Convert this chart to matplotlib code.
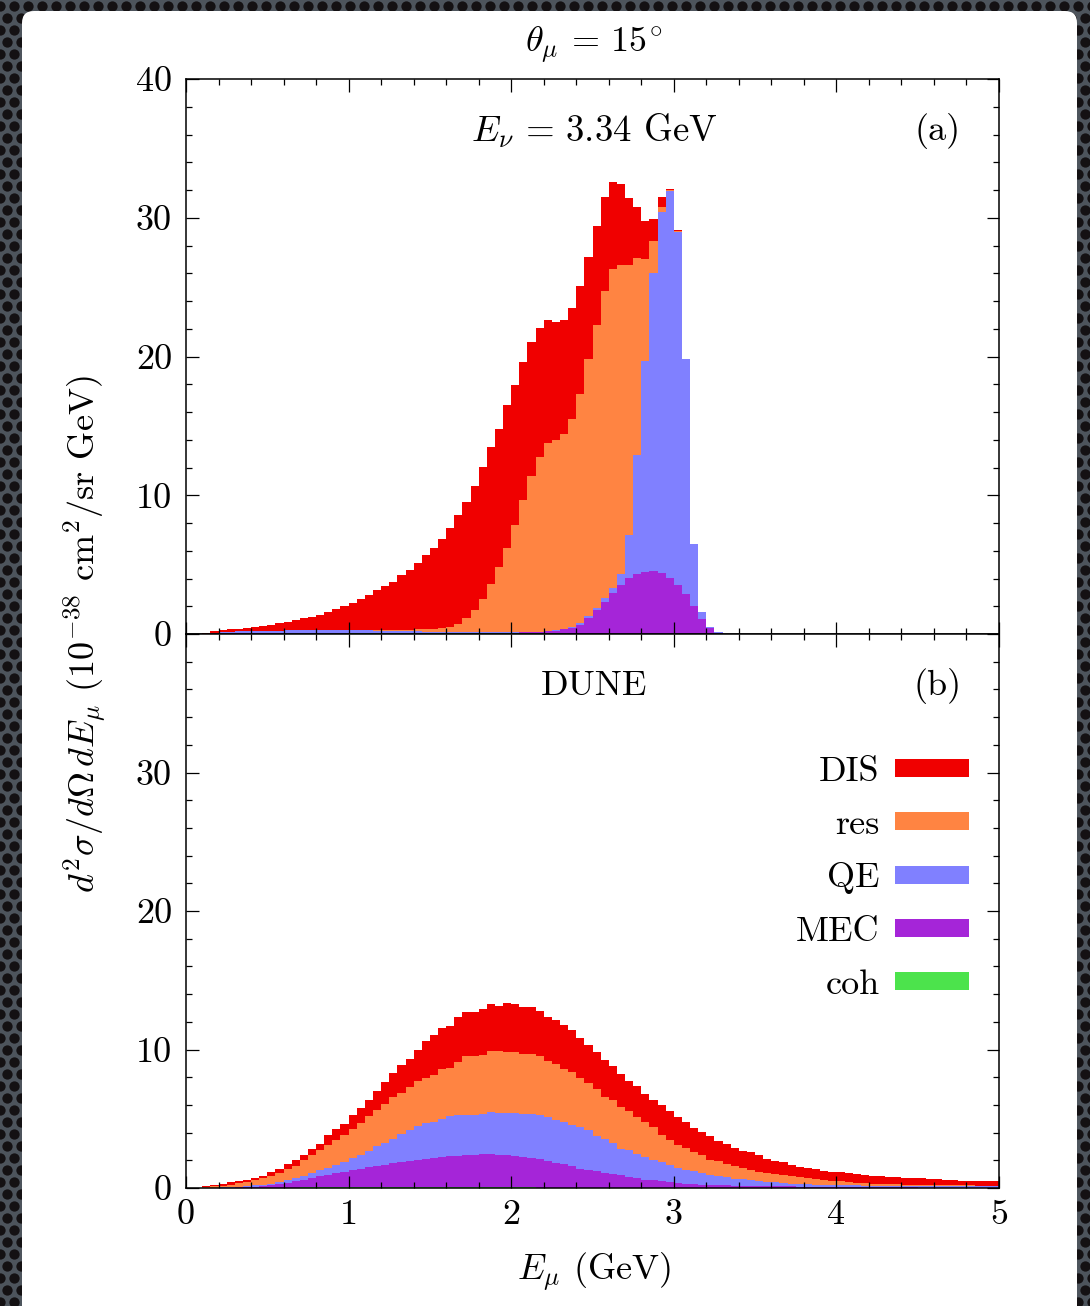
import numpy as np
import matplotlib
matplotlib.use("Agg")
import matplotlib.pyplot as plt
from matplotlib.patches import FancyBboxPatch, Patch
from matplotlib.ticker import MultipleLocator

plt.rcParams.update({
    "font.family": "serif",
    "font.serif": ["cmr10"],
    "mathtext.fontset": "cm",
    "axes.formatter.use_mathtext": True,
    "font.size": 26,
})

# ---------------------------------------------------------------------------
# Binning: 100 bins of 0.05 GeV in muon energy
# ---------------------------------------------------------------------------
e_min, e_max, n_bins = 0.0, 5.0, 100

channels = ["DIS", "res", "QE", "MEC", "coh"]
colors = {"DIS": "#f00000", "res": "#ff8442", "QE": "#8080ff",
          "MEC": "#a525d8", "coh": "#4ce34c"}

# (a) fixed beam energy E_nu = 3.34 GeV, contributions per bin (1e-38 cm^2/sr/GeV)
mono_DIS = [
    0, 0, 0.02, 0.12, 0.11, 0.16, 0.18, 0.24, 0.27, 0.34,
    0.42, 0.52, 0.63, 0.75, 0.87, 0.99, 1.13, 1.34, 1.53, 1.74,
    1.92, 2.23, 2.49, 2.85, 3.15, 3.44, 3.96, 4.30, 4.77, 5.38,
    5.84, 6.48, 7.19, 7.87, 8.42, 8.96, 9.55, 9.88, 9.98, 10.24,
    10.14, 9.93, 9.66, 9.30, 8.91, 8.51, 8.22, 8.00, 7.75, 7.40,
    7.10, 6.80, 6.30, 5.80, 4.80, 3.70, 2.80, 1.60, 0.70, 0.10,
    0.05, 0, 0, 0, 0, 0, 0, 0, 0, 0,
    0, 0, 0, 0, 0, 0, 0, 0, 0, 0,
    0, 0, 0, 0, 0, 0, 0, 0, 0, 0,
    0, 0, 0, 0, 0, 0, 0, 0, 0, 0,
]
mono_res = [
    0, 0, 0, 0, 0, 0, 0, 0, 0, 0,
    0, 0, 0, 0, 0, 0, 0, 0.01, 0.01, 0.02,
    0.03, 0.03, 0.04, 0.05, 0.06, 0.07, 0.09, 0.11, 0.14, 0.16,
    0.19, 0.24, 0.33, 0.60, 0.99, 1.62, 2.40, 3.46, 4.71, 6.11,
    7.72, 9.51, 11.23, 12.58, 13.52, 13.70, 14.03, 14.96, 16.51, 18.48,
    20.42, 22.08, 22.95, 22.25, 19.44, 14.20, 7.30, 2.30, 0.40, 0.10,
    0.05, 0, 0, 0, 0, 0, 0, 0, 0, 0,
    0, 0, 0, 0, 0, 0, 0, 0, 0, 0,
    0, 0, 0, 0, 0, 0, 0, 0, 0, 0,
    0, 0, 0, 0, 0, 0, 0, 0, 0, 0,
]
mono_QE = [
    0, 0, 0.03, 0.10, 0.15, 0.18, 0.20, 0.22, 0.23, 0.24,
    0.25, 0.25, 0.26, 0.26, 0.26, 0.26, 0.26, 0.26, 0.26, 0.26,
    0.22, 0.21, 0.20, 0.18, 0.17, 0.15, 0.13, 0.11, 0.09, 0.08,
    0.07, 0.06, 0.05, 0.04, 0.03, 0.02, 0.02, 0.02, 0.02, 0.02,
    0.02, 0.02, 0.02, 0.02, 0.02, 0.02, 0.03, 0.05, 0.12, 0.15,
    0.13, 0.28, 0.37, 0.79, 3.12, 8.55, 15.20, 21.46, 26.00, 27.84,
    25.44, 16.92, 4.46, 0.49, 0.12, 0.02, 0, 0, 0, 0,
    0, 0, 0, 0, 0, 0, 0, 0, 0, 0,
    0, 0, 0, 0, 0, 0, 0, 0, 0, 0,
    0, 0, 0, 0, 0, 0, 0, 0, 0, 0,
]
mono_MEC = [
    0, 0, 0, 0, 0, 0, 0, 0, 0, 0,
    0, 0, 0, 0, 0, 0, 0, 0, 0, 0,
    0, 0, 0, 0, 0, 0, 0, 0, 0, 0,
    0, 0, 0, 0, 0, 0, 0, 0, 0, 0,
    0, 0.02, 0.04, 0.07, 0.13, 0.20, 0.30, 0.42, 0.65, 1.16,
    1.75, 2.34, 2.98, 3.56, 4.04, 4.35, 4.50, 4.54, 4.40, 4.06,
    3.56, 2.88, 2.04, 1.10, 0.41, 0.10, 0, 0, 0, 0,
    0, 0, 0, 0, 0, 0, 0, 0, 0, 0,
    0, 0, 0, 0, 0, 0, 0, 0, 0, 0,
    0, 0, 0, 0, 0, 0, 0, 0, 0, 0,
]
mono_coh = [
    0, 0, 0, 0, 0, 0, 0, 0, 0, 0,
    0, 0, 0, 0, 0, 0, 0, 0, 0, 0,
    0.04, 0.05, 0.06, 0.07, 0.08, 0.08, 0.09, 0.09, 0.10, 0.10,
    0.10, 0.10, 0.10, 0.10, 0.10, 0.10, 0.10, 0.10, 0.10, 0.10,
    0.10, 0.09, 0.08, 0.07, 0.06, 0.05, 0.04, 0.03, 0.02, 0.01,
    0, 0, 0, 0, 0, 0, 0, 0, 0, 0,
    0, 0, 0, 0, 0, 0, 0, 0, 0, 0,
    0, 0, 0, 0, 0, 0, 0, 0, 0, 0,
    0, 0, 0, 0, 0, 0, 0, 0, 0, 0,
    0, 0, 0, 0, 0, 0, 0, 0, 0, 0,
]

# (b) DUNE flux-averaged contributions per bin (1e-38 cm^2/sr/GeV)
dune_DIS = [
    0, 0.01, 0.07, 0.12, 0.14, 0.19, 0.14, 0.17, 0.20, 0.19,
    0.34, 0.29, 0.32, 0.41, 0.40, 0.39, 0.44, 0.72, 0.79, 0.79,
    0.96, 1.06, 1.13, 1.40, 1.56, 1.73, 1.97, 2.07, 2.24, 2.67,
    2.89, 2.96, 2.98, 3.29, 3.19, 3.24, 3.36, 3.39, 3.31, 3.54,
    3.48, 3.36, 3.41, 3.31, 3.18, 3.17, 3.18, 3.05, 2.86, 2.79,
    2.65, 2.65, 2.48, 2.41, 2.23, 2.24, 2.00, 1.97, 2.15, 2.11,
    1.99, 1.88, 1.73, 1.68, 1.71, 1.44, 1.49, 1.32, 1.22, 1.28,
    1.18, 0.97, 0.94, 0.97, 0.76, 0.75, 0.75, 0.68, 0.60, 0.62,
    0.65, 0.63, 0.63, 0.60, 0.58, 0.58, 0.53, 0.49, 0.45, 0.46,
    0.48, 0.44, 0.43, 0.39, 0.35, 0.34, 0.34, 0.32, 0.30, 0.31,
]
dune_res = [
    0, 0.01, 0.05, 0.09, 0.13, 0.19, 0.27, 0.31, 0.36, 0.46,
    0.53, 0.67, 0.84, 0.84, 1.13, 1.30, 1.44, 1.61, 1.76, 1.97,
    2.12, 2.31, 2.55, 2.60, 2.81, 3.00, 3.01, 3.10, 3.22, 3.22,
    3.39, 3.60, 3.51, 3.85, 4.26, 4.21, 4.21, 4.42, 4.43, 4.40,
    4.38, 4.33, 4.28, 4.21, 4.08, 4.09, 3.84, 3.80, 3.58, 3.41,
    3.43, 3.00, 3.05, 3.00, 2.81, 2.64, 2.56, 2.40, 1.97, 1.81,
    1.66, 1.56, 1.40, 1.28, 1.08, 1.08, 0.94, 0.92, 0.84, 0.77,
    0.68, 0.64, 0.60, 0.55, 0.56, 0.50, 0.46, 0.43, 0.38, 0.31,
    0.28, 0.24, 0.19, 0.18, 0.14, 0.12, 0.13, 0.12, 0.10, 0.09,
    0.09, 0.09, 0.08, 0.07, 0.07, 0.06, 0.06, 0.06, 0.06, 0.05,
]
dune_QE = [
    0, 0, 0.02, 0.02, 0.02, 0.02, 0.03, 0.07, 0.12, 0.12,
    0.12, 0.14, 0.17, 0.27, 0.27, 0.35, 0.48, 0.53, 0.60, 0.70,
    0.89, 1.03, 1.15, 1.41, 1.59, 1.76, 1.99, 2.21, 2.43, 2.59,
    2.59, 2.76, 2.91, 2.91, 2.86, 2.89, 2.93, 3.03, 3.03, 3.04,
    3.12, 3.12, 3.20, 3.22, 3.20, 3.05, 3.05, 2.98, 2.99, 2.84,
    2.53, 2.46, 2.24, 1.93, 1.93, 1.78, 1.64, 1.45, 1.40, 1.20,
    1.09, 1.01, 0.94, 0.84, 0.74, 0.66, 0.58, 0.49, 0.46, 0.39,
    0.35, 0.32, 0.28, 0.24, 0.20, 0.19, 0.17, 0.16, 0.14, 0.15,
    0.13, 0.13, 0.13, 0.13, 0.12, 0.12, 0.12, 0.12, 0.11, 0.11,
    0.12, 0.11, 0.11, 0.11, 0.10, 0.11, 0.11, 0.10, 0.10, 0.10,
]
dune_MEC = [
    0, 0, 0, 0.01, 0.02, 0.03, 0.04, 0.05, 0.07, 0.12,
    0.19, 0.29, 0.36, 0.45, 0.56, 0.70, 0.78, 0.88, 1.02, 1.12,
    1.21, 1.31, 1.43, 1.53, 1.62, 1.74, 1.82, 1.89, 1.98, 2.06,
    2.13, 2.18, 2.22, 2.27, 2.32, 2.34, 2.37, 2.39, 2.34, 2.30,
    2.25, 2.19, 2.12, 2.04, 1.90, 1.82, 1.71, 1.59, 1.39, 1.32,
    1.20, 1.10, 1.03, 0.91, 0.79, 0.70, 0.60, 0.55, 0.48, 0.43,
    0.38, 0.31, 0.26, 0.24, 0.22, 0.21, 0.19, 0.18, 0.17, 0.16,
    0.15, 0.14, 0.13, 0.12, 0.11, 0.10, 0.09, 0.08, 0.08, 0.07,
    0.07, 0.06, 0.06, 0.05, 0.05, 0.05, 0.04, 0.04, 0.04, 0.04,
    0.03, 0.03, 0.03, 0.03, 0.03, 0.02, 0.02, 0.02, 0.02, 0.02,
]
dune_coh = [
    0, 0, 0, 0, 0, 0, 0, 0, 0, 0,
    0, 0, 0.02, 0.03, 0.04, 0.05, 0.06, 0.06, 0.06, 0.06,
    0.06, 0.06, 0.06, 0.06, 0.06, 0.06, 0.06, 0.06, 0.06, 0.06,
    0.06, 0.06, 0.06, 0.06, 0.06, 0.06, 0.06, 0.06, 0.06, 0.06,
    0.06, 0.05, 0.04, 0.03, 0.02, 0.01, 0, 0, 0, 0,
    0, 0, 0, 0, 0, 0, 0, 0, 0, 0,
    0, 0, 0, 0, 0, 0, 0, 0, 0, 0,
    0, 0, 0, 0, 0, 0, 0, 0, 0, 0,
    0, 0, 0, 0, 0, 0, 0, 0, 0, 0,
    0, 0, 0, 0, 0, 0, 0, 0, 0, 0,
]

mono = {"DIS": mono_DIS, "res": mono_res, "QE": mono_QE,
        "MEC": mono_MEC, "coh": mono_coh}
dune = {"DIS": dune_DIS, "res": dune_res, "QE": dune_QE,
        "MEC": dune_MEC, "coh": dune_coh}

y_ticks = [0, 10, 20, 30, 40]
x_ticks = [0, 1, 2, 3, 4, 5]

edges = np.linspace(e_min, e_max, n_bins + 1)

W, H = 1090, 1306
fig = plt.figure(figsize=(W / 100, H / 100), dpi=100, facecolor="#4d545c")

# perforated dark backdrop with a white rounded card on top
bg = fig.add_axes([0, 0, 1, 1], zorder=-10)
bg.set_xlim(0, W)
bg.set_ylim(H, 0)
bg.axis("off")
gx, gy = np.meshgrid(np.arange(-7, W + 14, 14.0), np.arange(-6, H + 12, 12.0))
gx = gx + (np.arange(gx.shape[0])[:, None] % 2) * 7.0
bg.scatter(gx.ravel(), gy.ravel(), s=55, color="#141113", lw=0)
bg.add_patch(FancyBboxPatch((22, 11), 1055, 1330,
                            boxstyle="round,pad=0,rounding_size=12",
                            facecolor="white", edgecolor="none", zorder=5))

left, width = 186 / W, 813 / W
ax_top = fig.add_axes([left, (H - 634) / H, width, 555 / H])
ax_bot = fig.add_axes([left, (H - 1188) / H, width, 554 / H])


def draw_stack(ax, data):
    # cumulative levels, bottom-most channel first
    order = ["coh", "MEC", "QE", "res", "DIS"]
    levels, run = [], np.zeros(n_bins)
    for name in order:
        run = run + np.asarray(data[name], dtype=float)
        levels.append((name, run.copy()))
    for name, lev in reversed(levels):
        ax.stairs(lev, edges, baseline=0, fill=True,
                  color=colors[name], lw=0)


for ax, data in ((ax_top, mono), (ax_bot, dune)):
    draw_stack(ax, data)
    ax.set_xlim(e_min, e_max)
    ax.set_ylim(0, 40)
    ax.set_xticks(x_ticks)
    ax.xaxis.set_minor_locator(MultipleLocator(0.2))
    ax.yaxis.set_minor_locator(MultipleLocator(2))
    ax.tick_params(which="both", direction="in", top=True, right=True,
                   width=0.9, labelsize=26)
    ax.tick_params(which="major", length=9, pad=10)
    ax.tick_params(which="minor", length=4.5)
    for sp in ax.spines.values():
        sp.set_linewidth(1.1)
    ax.set_axisbelow(False)

ax_top.set_yticks(y_ticks, [str(v) for v in y_ticks])
ax_top.tick_params(labelbottom=False)
ax_bot.set_yticks(y_ticks, [str(v) for v in y_ticks[:-1]] + [""])
ax_bot.set_xticklabels([str(v) for v in x_ticks])
ax_bot.tick_params(axis="x", pad=8)

ax_top.text(0.502, 0.906, r"$E_\nu\,=\,3.34$ GeV", transform=ax_top.transAxes,
            ha="center", va="center", fontsize=26.5)
ax_top.text(0.924, 0.906, "(a)", transform=ax_top.transAxes,
            ha="center", va="center", fontsize=26)
ax_bot.text(0.502, 0.906, "DUNE", transform=ax_bot.transAxes,
            ha="center", va="center", fontsize=26)
ax_bot.text(0.924, 0.906, "(b)", transform=ax_bot.transAxes,
            ha="center", va="center", fontsize=26)

handles = [Patch(facecolor=colors[c], edgecolor="none", label=c) for c in channels]
ax_bot.legend(handles=handles, loc="upper right", bbox_to_anchor=(0.963, 0.78),
              frameon=False, markerfirst=False, fontsize=26, borderpad=0,
              borderaxespad=0, handlelength=2.05, handleheight=0.39,
              handletextpad=0.42, labelspacing=0.60)

fig.text(594 / W, (H - 45) / H, r"$\theta_\mu\,=\,15^{\!\circ}$",
         ha="center", va="center", fontsize=26)
fig.text(594 / W, (H - 1272) / H, r"$E_\mu$ (GeV)",
         ha="center", va="center", fontsize=26)
fig.text(85 / W, (H - 634) / H,
         r"$d^2\sigma/d\Omega\,dE_\mu$ $(10^{-38}$ cm$^2$/sr GeV$)$",
         ha="center", va="center", rotation=90, fontsize=26)

fig.savefig("out.png", dpi=100, facecolor=fig.get_facecolor())
